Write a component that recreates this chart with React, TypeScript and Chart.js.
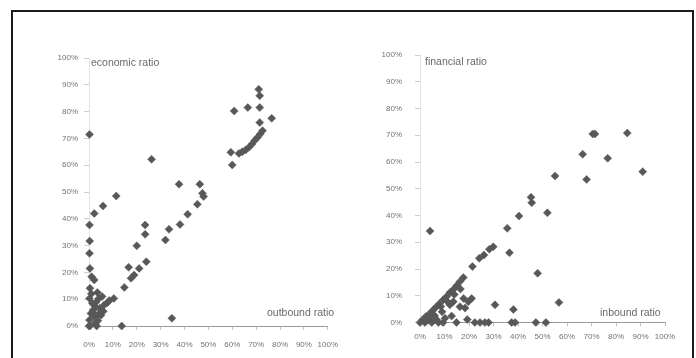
import React, { useEffect, useRef } from 'react';
import Chart from 'chart.js/auto';

// Left panel: outbound ratio (x) vs economic ratio (y), in percent
const econX = [
  71.1, 71.5, 60.8, 66.5, 71.5, 76.5, 71.5, 59.4, 60.0, 62.8, 64.2, 65.6, 67.0, 68.3, 69.4, 70.6, 71.7, 72.7,
  0.2, 26.2, 37.7, 46.4, 47.5, 48.0, 45.4, 41.3, 38.1, 33.5, 32.0, 23.5, 23.5, 20.0, 24.0, 21.0, 16.6, 18.9,
  17.6, 14.8, 10.4, 13.7, 34.7, 11.4, 5.9, 2.2, 0.2, 0.3, 0.2, 0.4,
  1.1, 2.2, 0.4, 0.2, 4.1, 5.5, 1.4, 2.7, 4.5, 6.3, 7.7, 0.8, 2.2, 0.2, 3.7, 0.4, 3.2, 0.0, 5.0, 1.8,
  1.0, 3.0, 1.5, 4.0, 2.5, 6.0, 8.5, 3.5,
];
const econY = [
  88.3, 85.9, 80.2, 81.5, 81.5, 77.5, 75.9, 64.8, 60.1, 64.4, 65.0, 65.7, 66.7, 67.9, 69.2, 70.4, 71.6, 72.9,
  71.5, 62.2, 52.9, 52.9, 49.5, 48.3, 45.4, 41.7, 37.9, 36.1, 32.1, 37.7, 34.2, 29.9, 24.0, 21.5, 21.9, 19.0,
  17.8, 14.4, 10.3, 0.0, 2.9, 48.5, 44.8, 42.0, 37.7, 31.7, 27.1, 21.5,
  18.4, 17.2, 14.1, 10.3, 10.3, 11.0, 8.5, 7.2, 6.6, 7.8, 8.7, 4.7, 3.5, 2.2, 2.0, 0.0, 0.0, 0.0, 4.0, 6.0,
  12.0, 9.0, 5.0, 4.5, 1.0, 5.5, 9.5, 12.5,
];

// Right panel: inbound ratio (x) vs financial ratio (y), in percent
const finX = [
  70.5, 71.4, 84.6, 66.4, 76.6, 68.0, 90.9, 55.1, 45.3, 45.6, 52.0, 40.4, 35.6, 4.1, 36.5, 29.9, 28.3, 26.1,
  24.2, 21.4, 48.0,
  17.7, 16.3, 15.0, 13.7, 12.2, 10.9, 9.5, 7.9, 6.5, 5.2, 3.8, 2.4, 1.1,
  21.1, 19.7, 17.8, 16.3, 18.4, 13.6, 12.2, 30.6, 38.1, 56.7, 12.9, 10.2, 14.9, 19.3,
  0.0, 2.0, 4.8, 7.5, 9.4, 22.4, 24.5, 26.5, 28.0, 37.4, 38.8, 47.3, 51.4, 4.1, 6.8,
  8.5, 11.0, 14.0, 9.0, 6.0, 3.0, 16.5,
];
const finY = [
  70.5, 70.5, 70.8, 62.9, 61.4, 53.5, 56.4, 54.8, 46.8, 44.8, 41.0, 39.8, 35.2, 34.2, 26.1, 28.3, 27.4, 25.2,
  24.0, 20.9, 18.4,
  16.8, 15.3, 13.8, 12.4, 11.2, 9.7, 8.5, 7.0, 5.7, 4.5, 3.2, 2.2, 1.0,
  9.0, 7.8, 9.0, 5.9, 5.4, 7.8, 6.6, 6.6, 4.9, 7.5, 2.4, 1.6, 0.0, 1.1,
  0, 0, 0, 0, 0, 0, 0, 0, 0, 0, 0, 0, 0, 1.6, 1.0,
  6.0, 8.0, 10.5, 4.0, 2.5, 0.8, 12.5,
];

const econLabel = 'economic ratio';
const outboundLabel = 'outbound ratio';
const finLabel = 'financial ratio';
const inboundLabel = 'inbound ratio';

const FONT = "'Liberation Sans', Arial, sans-serif";

type Cfg = {
  yWidth: number;
  xHeight: number;
  padTop: number;
  padRight: number;
  yPad: number;
  xPad: number;
};

function build(canvas: HTMLCanvasElement, xs: number[], ys: number[], cfg: Cfg) {
  const pts = xs.map((x, i) => ({ x, y: ys[i] }));
  return new Chart(canvas, {
    type: 'scatter',
    data: {
      datasets: [
        {
          data: pts,
          clip: false,
          pointStyle: 'rectRot',
          pointRadius: 4,
          backgroundColor: '#585858',
          borderColor: '#585858',
          borderWidth: 0.5,
        },
      ],
    },
    options: {
      responsive: false,
      animation: false,
      layout: { padding: { top: cfg.padTop, right: cfg.padRight, left: 0, bottom: 0 } },
      plugins: { legend: { display: false }, tooltip: { enabled: false } },
      scales: {
        x: {
          type: 'linear',
          min: 0,
          max: 100,
          afterFit: (s: any) => {
            s.height = cfg.xHeight;
          },
          ticks: {
            stepSize: 10,
            padding: cfg.xPad,
            color: '#727272',
            font: { family: FONT, size: 8 },
            maxRotation: 0,
            autoSkip: false,
            callback: (v: any) => v + '%',
          },
          grid: { drawOnChartArea: false, drawTicks: true, tickLength: 4, color: '#c4c4c4' },
          border: { display: true, color: '#9a9a9a', width: 1 },
        },
        y: {
          type: 'linear',
          min: 0,
          max: 100,
          afterFit: (s: any) => {
            s.width = cfg.yWidth;
          },
          ticks: {
            stepSize: 10,
            padding: cfg.yPad,
            color: '#727272',
            font: { family: FONT, size: 8 },
            autoSkip: false,
            callback: (v: any) => v + '%',
          },
          grid: { drawOnChartArea: false, drawTicks: true, tickLength: 5, color: '#cfcfcf' },
          border: { display: true, color: '#e2e2e2', width: 1 },
        },
      },
    },
  });
}

const textStyle = (left: number, top: number): React.CSSProperties => ({
  position: 'fixed',
  left,
  top,
  fontFamily: FONT,
  fontSize: 10.5,
  lineHeight: '12px',
  color: '#6a6a6a',
  whiteSpace: 'nowrap',
});

export default function App() {
  const leftRef = useRef<HTMLCanvasElement>(null);
  const rightRef = useRef<HTMLCanvasElement>(null);

  useEffect(() => {
    const a = build(leftRef.current!, econX, econY, {
      yWidth: 89,
      xHeight: 32,
      padTop: 58,
      padRight: 16,
      yPad: 6,
      xPad: 10,
    });
    const b = build(rightRef.current!, finX, finY, {
      yWidth: 72,
      xHeight: 35.5,
      padTop: 55,
      padRight: 31,
      yPad: 13,
      xPad: 5,
    });
    return () => {
      a.destroy();
      b.destroy();
    };
  }, []);

  return (
    <div style={{ position: 'fixed', left: 0, top: 0, width: 696, height: 358, background: '#fff', overflow: 'hidden' }}>
      <canvas ref={leftRef} width={348} height={358} style={{ position: 'absolute', left: 0, top: 0 }} />
      <canvas ref={rightRef} width={348} height={358} style={{ position: 'absolute', left: 348, top: 0 }} />
      <div
        style={{
          position: 'absolute',
          left: 11,
          top: 10,
          width: 683,
          height: 380,
          boxSizing: 'border-box',
          border: '2px solid #1c1c1c',
          pointerEvents: 'none',
        }}
      />
      <div style={textStyle(91, 56)}>{econLabel}</div>
      <div style={textStyle(267, 306)}>{outboundLabel}</div>
      <div style={textStyle(425, 55)}>{finLabel}</div>
      <div style={textStyle(600, 306)}>{inboundLabel}</div>
    </div>
  );
}
